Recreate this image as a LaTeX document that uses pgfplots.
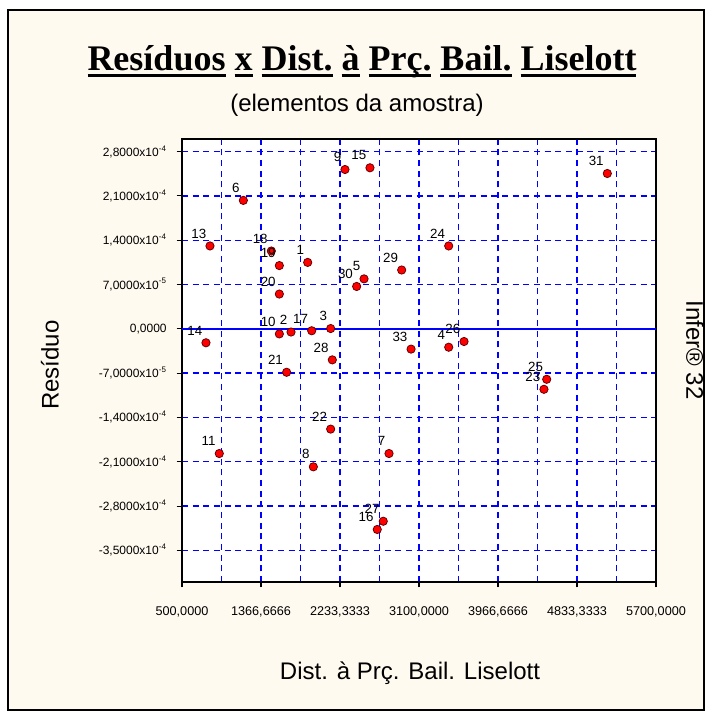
\documentclass[border=0pt]{standalone}
\usepackage{pgfplots}
\pgfplotsset{compat=1.18}
\usepackage{fontspec}
\setmainfont{Liberation Sans}
\newfontfamily\titlefont{Liberation Serif}

\definecolor{cream}{RGB}{255,250,240}
\definecolor{gridblue}{RGB}{0,0,255}

% thick underline, word by word
\newcommand{\tul}[1]{\setbox0\hbox{#1}\rlap{\rule[-4.5pt]{\wd0}{2pt}}\box0\relax}

% residuos x distancia
\pgfplotstableread{
label x y
1 1879 1.05e-4
2 1696 -0.05e-4
3 2131 0.005e-4
4 3426 -0.29e-4
5 2497 0.79e-4
6 1173 2.03e-4
7 2771 -1.97e-4
8 1941 -2.18e-4
9 2288 2.518e-4
10 1568 -0.08e-4
11 909 -1.97e-4
13 807 1.31e-4
14 763 -0.22e-4
15 2562 2.545e-4
16 2642 -3.17e-4
17 1923 -0.03e-4
18 1480 1.23e-4
19 1568 1.0e-4
20 1568 0.55e-4
21 1648 -0.686e-4
22 2131 -1.584e-4
23 4471 -0.955e-4
24 3426 1.31e-4
25 4501 -0.797e-4
26 3594 -0.2e-4
27 2708 -3.04e-4
28 2149 -0.49e-4
29 2910 0.93e-4
30 2416 0.67e-4
31 5166 2.455e-4
33 3013 -0.32e-4
}\residuos

\begin{document}
\begin{tikzpicture}[x=1pt,y=1pt]
\fill[white] (-136.5,-102) rectangle (398.25,436.5);
\draw[line width=1.2pt, fill=cream] (-130.5,-96) rectangle (391.5,429);

\begin{axis}[
  at={(0,0)}, anchor=south west,
  scale only axis, width=355.5pt, height=332.25pt,
  xmin=500, xmax=5700, ymin=-4.0e-4, ymax=3.0e-4,
  axis background/.style={fill=white},
  axis line style={black, line width=1.2pt},
  xtick={500,1366.6666,2233.3333,3100,3966.6666,4833.3333,5700},
  xticklabels={{500,0000},{1366,6666},{2233,3333},{3100,0000},{3966,6666},{4833,3333},{5700,0000}},
  minor xtick={933.3333,1800,2666.6666,3533.3333,4400,5266.6666},
  ytick={-3.5e-4,-2.8e-4,-2.1e-4,-1.4e-4,-0.7e-4,0,0.7e-4,1.4e-4,2.1e-4,2.8e-4},
  yticklabels={{-3,5000x10\textsuperscript{-4}},{-2,8000x10\textsuperscript{-4}},{-2,1000x10\textsuperscript{-4}},{-1,4000x10\textsuperscript{-4}},{-7,0000x10\textsuperscript{-5}},{0,0000},{7,0000x10\textsuperscript{-5}},{1,4000x10\textsuperscript{-4}},{2,1000x10\textsuperscript{-4}},{2,8000x10\textsuperscript{-4}}},
  xtick pos=bottom, ytick pos=left,
  tick align=outside, major tick length=4pt, minor tick length=0pt,
  major tick style={black, line width=0.8pt},
  xmajorgrids, xminorgrids, ymajorgrids,
  grid style={gridblue, dash pattern=on 4.5pt off 3.5pt, line width=1.1pt},
  minor grid style={gridblue, dash pattern=on 4.5pt off 3.5pt, line width=1.1pt},
  xticklabel style={font=\fontsize{9.5}{10}\selectfont, yshift=-11pt},
  yticklabel style={font=\fontsize{9}{10}\selectfont, xshift=-4pt},
  scaled ticks=false,
  clip=false,
]
\addplot[gridblue, line width=1.2pt, forget plot] coordinates {(500,0) (5700,0)};
\addplot[only marks, mark=*, mark size=3.1pt,
  mark options={fill=red, draw=black!60!red, line width=0.6pt},
  point meta=explicit symbolic, nodes near coords,
  nodes near coords style={anchor=south east, xshift=-2.5pt, yshift=5.5pt,
    inner sep=0pt, font=\fontsize{10}{11}\selectfont, text=black}]
  table[x=x, y=y, meta=label] {\residuos};
\end{axis}

\node[font=\titlefont\bfseries\fontsize{27}{30}\selectfont] at (135,390)
  {\tul{Resíduos} \tul{x} \tul{Dist.} \tul{à} \tul{Prç.} \tul{Bail.} \tul{Liselott}};
\node[font=\fontsize{18}{21}\selectfont] at (131.25,357.75) {(elementos da amostra)};
\node[font=\fontsize{18}{21}\selectfont] at (171,-68.25) {Dist. à Prç. Bail. Liselott};
\node[font=\fontsize{18}{21}\selectfont, rotate=90] at (-99,162.75) {Resíduo};
\node[font=\fontsize{18}{21}\selectfont, rotate=-90] at (384.75,174) {Infer® 32};

\pgfresetboundingbox
\path[use as bounding box] (-136.5,-102) rectangle (398.25,436.5);
\end{tikzpicture}
\end{document}
